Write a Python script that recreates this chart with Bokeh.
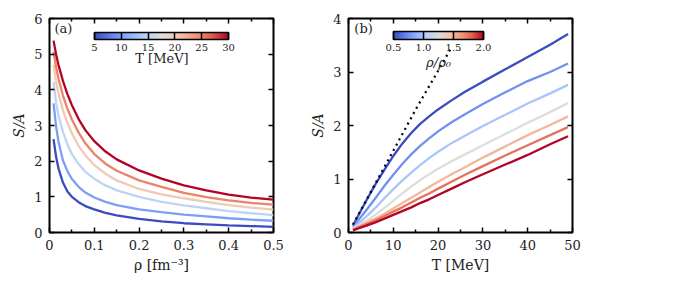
from bokeh.plotting import figure
from bokeh.layouts import row
from bokeh.models import (ColumnDataSource, LinearColorMapper, ColorBar, FixedTicker,
                          LinearAxis, Label, Range1d, PrintfTickFormatter)
from bokeh.transform import linear_cmap
from bokeh.embed import file_html
from bokeh.resources import INLINE

# ---------------- data ----------------
# panel (a): S/A vs rho for several temperatures
rho_a = [0.009, 0.015, 0.02, 0.03, 0.04, 0.05, 0.065, 0.08, 0.1, 0.125, 0.15,
         0.2, 0.25, 0.3, 0.35, 0.4, 0.45, 0.5]
T_levels = [5, 10, 15, 20, 25, 30]
S_T5 = [2.62, 2.10, 1.80, 1.40, 1.15, 1.00, 0.85, 0.74, 0.65, 0.55, 0.48,
        0.38, 0.31, 0.26, 0.23, 0.20, 0.18, 0.16]
S_T10 = [3.62, 2.95, 2.55, 2.02, 1.72, 1.50, 1.28, 1.12, 0.98, 0.86, 0.77,
         0.65, 0.57, 0.50, 0.45, 0.40, 0.36, 0.33]
S_T15 = [4.22, 3.62, 3.28, 2.82, 2.47, 2.20, 1.92, 1.70, 1.51, 1.32, 1.18,
         1.00, 0.86, 0.76, 0.68, 0.60, 0.54, 0.49]
S_T20 = [4.70, 4.22, 3.90, 3.43, 3.07, 2.78, 2.43, 2.16, 1.89, 1.65, 1.46,
         1.22, 1.07, 0.96, 0.86, 0.77, 0.70, 0.64]
S_T25 = [5.07, 4.62, 4.32, 3.84, 3.47, 3.17, 2.80, 2.50, 2.20, 1.93, 1.73,
         1.46, 1.28, 1.11, 0.99, 0.90, 0.83, 0.78]
S_T30 = [5.38, 4.98, 4.70, 4.25, 3.88, 3.57, 3.18, 2.87, 2.56, 2.27, 2.05,
         1.74, 1.51, 1.32, 1.18, 1.06, 0.98, 0.92]

# panel (b): S/A vs T for several densities rho/rho0
T_b = [1, 2, 4, 6, 8, 10, 12, 14, 16, 18, 20, 23, 26, 30, 35, 40, 45, 49]
dens_levels = [0.5, 0.75, 1.0, 1.25, 1.5, 1.75, 2.0]
S_d050 = [0.13, 0.29, 0.60, 0.90, 1.17, 1.43, 1.66, 1.86, 2.03, 2.17, 2.30, 2.47,
          2.63, 2.82, 3.05, 3.28, 3.51, 3.71]
S_d075 = [0.10, 0.21, 0.42, 0.64, 0.87, 1.08, 1.28, 1.46, 1.62, 1.76, 1.89, 2.06,
          2.21, 2.40, 2.62, 2.83, 3.00, 3.16]
S_d100 = [0.08, 0.15, 0.30, 0.46, 0.64, 0.81, 0.97, 1.12, 1.26, 1.39, 1.51, 1.67,
          1.81, 1.99, 2.20, 2.41, 2.60, 2.76]
S_d125 = [0.07, 0.12, 0.22, 0.33, 0.46, 0.59, 0.73, 0.86, 0.98, 1.09, 1.19, 1.33,
          1.46, 1.63, 1.84, 2.05, 2.25, 2.42]
S_d150 = [0.06, 0.10, 0.18, 0.26, 0.35, 0.45, 0.55, 0.65, 0.75, 0.85, 0.95, 1.09,
          1.22, 1.40, 1.61, 1.82, 2.01, 2.17]
S_d175 = [0.05, 0.09, 0.16, 0.23, 0.31, 0.39, 0.47, 0.56, 0.65, 0.73, 0.82, 0.95,
          1.08, 1.24, 1.44, 1.63, 1.82, 1.97]
S_d200 = [0.04, 0.07, 0.13, 0.19, 0.26, 0.33, 0.40, 0.47, 0.55, 0.62, 0.70, 0.82,
          0.94, 1.09, 1.27, 1.45, 1.65, 1.80]
# dotted low-temperature limit
T_dot = [1.0, 8.0, 15.0, 19.5, 23.0]
S_dot = [0.15, 1.22, 2.30, 2.95, 3.46]

xticks_a = [0, 0.1, 0.2, 0.3, 0.4, 0.5]
xminor_a = [0.05, 0.15, 0.25, 0.35, 0.45]
yticks_a = [0, 1, 2, 3, 4, 5, 6]
xticks_b = [0, 10, 20, 30, 40, 50]
xminor_b = [5, 15, 25, 35, 45]
yticks_b = [0, 1, 2, 3, 4]
cbar_ticks_a = [5, 10, 15, 20, 25, 30]
cbar_ticks_b = [0.5, 1.0, 1.5, 2.0]

# ---------------- coolwarm palette ----------------
anchors = [(0.0, (59, 76, 192)), (0.125, (98, 130, 234)), (0.25, (141, 176, 254)),
           (0.375, (184, 208, 249)), (0.5, (221, 221, 221)), (0.625, (245, 196, 173)),
           (0.75, (244, 154, 123)), (0.875, (222, 96, 77)), (1.0, (180, 4, 38))]
def _interp(t):
    for (t0, c0), (t1, c1) in zip(anchors[:-1], anchors[1:]):
        if t <= t1:
            f = (t - t0) / (t1 - t0)
            return "#%02x%02x%02x" % tuple(int(round(a + (b - a) * f)) for a, b in zip(c0, c1))
    return "#%02x%02x%02x" % anchors[-1][1]
coolwarm = [_interp(i / 255) for i in range(256)]

FONT = "DejaVu Serif"
TXT = "#222222"

def style(p, xt, xm, yt):
    p.outline_line_color = "black"
    p.outline_line_width = 2
    p.outline_line_alpha = 1
    p.xgrid.visible = False
    p.ygrid.visible = False
    p.background_fill_color = "white"
    p.border_fill_color = "white"
    for ax in p.xaxis:
        ax.ticker = FixedTicker(ticks=xt, minor_ticks=xm)
        ax.axis_label_text_font_style = "normal"
    for ax in p.yaxis:
        ax.ticker = FixedTicker(ticks=yt)
        ax.axis_label_text_font_style = "italic"
        ax.minor_tick_line_color = None
    for ax in p.axis:
        ax.axis_line_color = None
        ax.major_tick_in = 5
        ax.major_tick_out = 0
        ax.minor_tick_in = 3
        ax.minor_tick_out = 0
        ax.major_tick_line_width = 1.5
        ax.minor_tick_line_width = 1.5
        ax.major_label_text_font = FONT
        ax.major_label_text_font_size = "13px"
        ax.major_label_text_color = TXT
        ax.axis_label_text_font = FONT
        ax.axis_label_text_font_size = "14px"
        ax.axis_label_text_color = TXT
        ax.major_label_standoff = 7
        ax.axis_label_standoff = 4
    # mirror ticks on top and right (no labels drawn)
    top = LinearAxis(ticker=FixedTicker(ticks=xt, minor_ticks=xm), axis_line_color=None,
                     major_tick_in=5, major_tick_out=0, minor_tick_in=3, minor_tick_out=0,
                     major_tick_line_width=1.5, minor_tick_line_width=1.5,
                     major_label_text_color=None, major_label_text_font_size="1px",
                     major_label_standoff=0)
    right = LinearAxis(ticker=FixedTicker(ticks=yt), axis_line_color=None,
                       major_tick_in=5, major_tick_out=0, minor_tick_line_color=None,
                       major_tick_line_width=1.5,
                       major_label_text_color=None, major_label_text_font_size="1px",
                       major_label_standoff=0)
    p.add_layout(top, "above")
    p.add_layout(right, "right")

def cbar(mapper, ticks, length, thick, fmt=None):
    kw = {}
    if fmt:
        kw["formatter"] = PrintfTickFormatter(format=fmt)
    return ColorBar(color_mapper=mapper, orientation="horizontal", location=(45, 179),
                    width=length, height=thick, padding=0, ticker=FixedTicker(ticks=ticks),
                    major_label_text_font=FONT, major_label_text_font_size="10px",
                    major_label_text_color=TXT,
                    major_tick_in=thick, major_tick_out=0, major_tick_line_color="black",
                    major_tick_line_width=1.5, minor_tick_line_color=None,
                    bar_line_color="black", bar_line_width=1.5, border_line_color=None,
                    background_fill_color=None, label_standoff=4, **kw)

# ---------------- panel (a) ----------------
pa = figure(width=298, height=281, output_backend="svg", toolbar_location=None,
            x_range=Range1d(0, 0.5), y_range=Range1d(0, 6),
            min_border_left=49, min_border_right=25, min_border_top=18, min_border_bottom=49)
src_a = ColumnDataSource(dict(xs=[rho_a] * 6,
                              ys=[S_T5, S_T10, S_T15, S_T20, S_T25, S_T30],
                              T=T_levels))
pa.multi_line("xs", "ys", source=src_a, line_width=2.3,
              line_color=linear_cmap("T", coolwarm, 5, 30))
pa.xaxis.axis_label = "ρ [fm⁻³]"
pa.yaxis.axis_label = "S/A"
style(pa, xticks_a, xminor_a, yticks_a)
pa.add_layout(cbar(LinearColorMapper(palette=coolwarm, low=5, high=30), cbar_ticks_a, 134, 7))
pa.add_layout(Label(x=0.011, y=5.93, text="(a)", text_baseline="top",
                    text_font=FONT, text_font_size="13px", text_color=TXT))
pa.add_layout(Label(x=0.251, y=4.88, text="T [MeV]", text_baseline="middle", text_align="center",
                    text_font=FONT, text_font_size="13px", text_color=TXT))

# ---------------- panel (b) ----------------
pb = figure(width=294, height=281, output_backend="svg", toolbar_location=None,
            x_range=Range1d(0, 50), y_range=Range1d(0, 4),
            min_border_left=50, min_border_right=20, min_border_top=18, min_border_bottom=49)
src_b = ColumnDataSource(dict(xs=[T_b] * 7,
                              ys=[S_d050, S_d075, S_d100, S_d125, S_d150, S_d175, S_d200],
                              d=dens_levels))
pb.multi_line("xs", "ys", source=src_b, line_width=2.3,
              line_color=linear_cmap("d", coolwarm, 0.5, 2.0))
pb.line(T_dot, S_dot, line_color="black", line_width=2.2, line_dash="2 4")
pb.xaxis.axis_label = "T [MeV]"
pb.yaxis.axis_label = "S/A"
style(pb, xticks_b, xminor_b, yticks_b)
pb.add_layout(cbar(LinearColorMapper(palette=coolwarm, low=0.5, high=2.0), cbar_ticks_b, 90, 8,
                   fmt="%.1f"))
pb.add_layout(Label(x=1.3, y=3.95, text="(b)", text_baseline="top",
                    text_font=FONT, text_font_size="13px", text_color=TXT))
pb.add_layout(Label(x=20.1, y=3.18, text="ρ/ρ₀", text_baseline="middle", text_align="center",
                    text_font=FONT, text_font_size="13px", text_color=TXT,
                    text_font_style="italic"))

layout = row(pa, pb)
open("out.html", "w").write(file_html(layout, INLINE))
